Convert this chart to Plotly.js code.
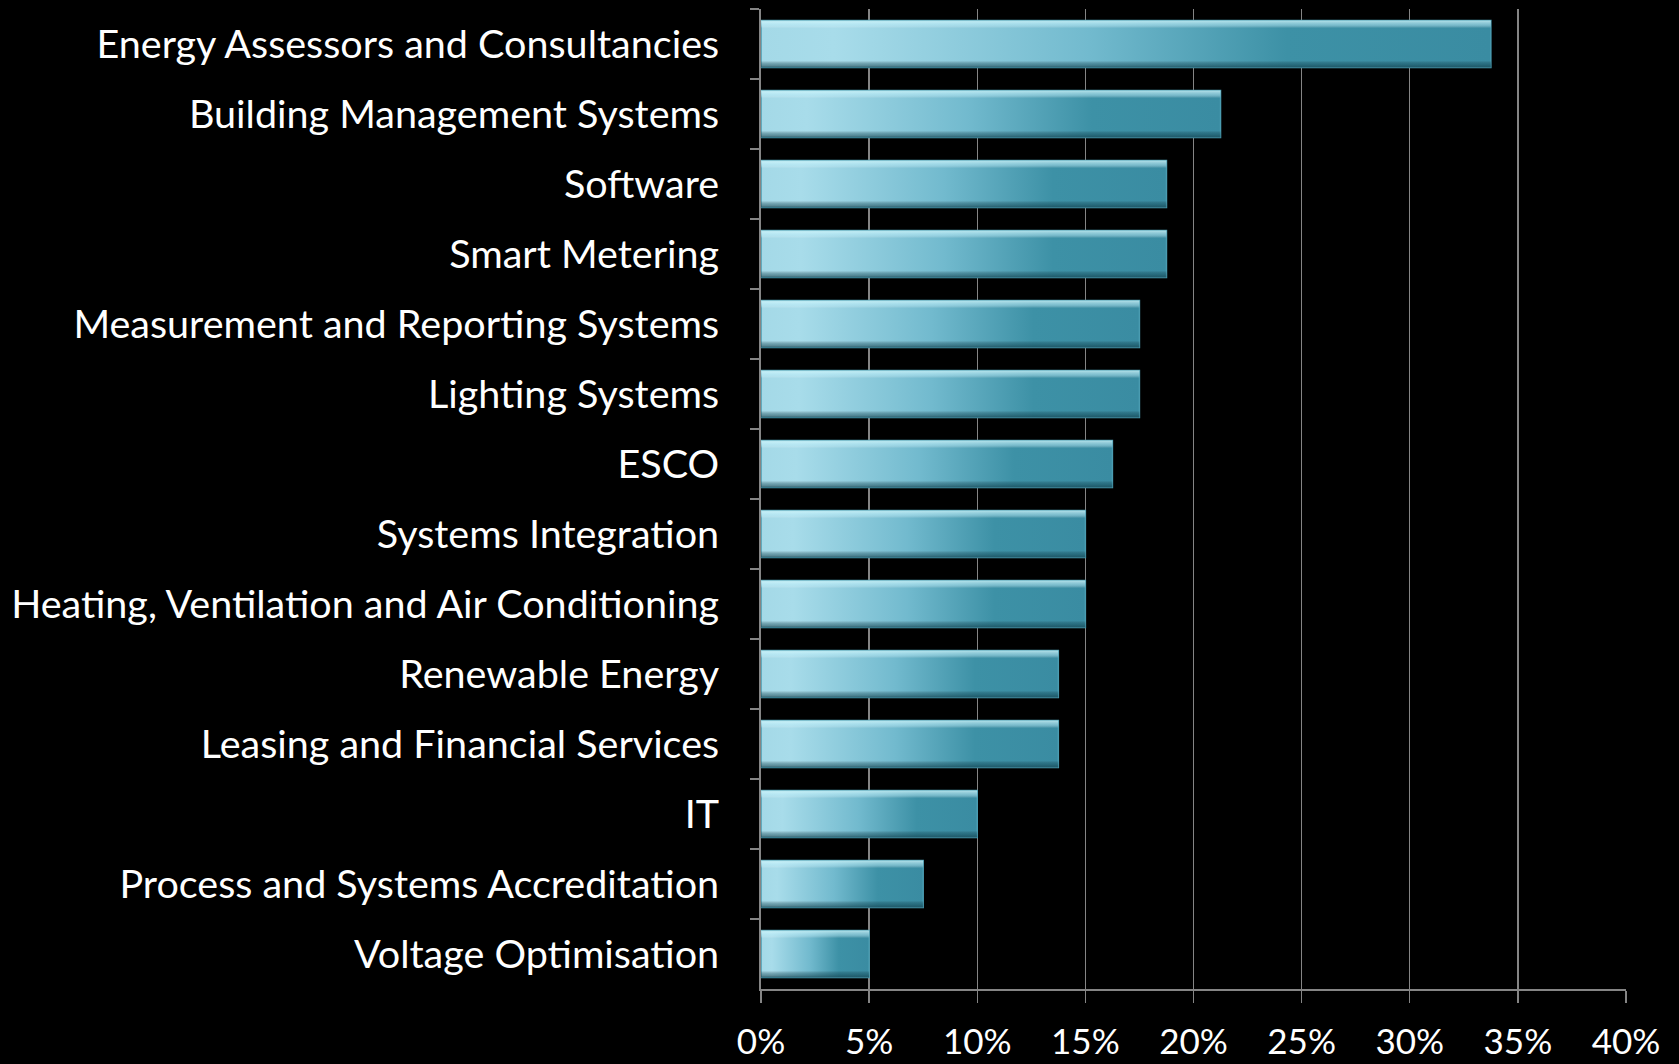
<!DOCTYPE html>
<html>
<head>
<meta charset="utf-8">
<script src="https://cdn.plot.ly/plotly-3.0.1.min.js"></script>
<style>
  html, body { margin: 0; padding: 0; background: #000; }
  #chart { width: 1679px; height: 1064px; }
</style>
</head>
<body>
<div id="chart"></div>
<script>
const categories = [
  "Energy Assessors and Consultancies",
  "Building Management Systems",
  "Software",
  "Smart Metering",
  "Measurement and Reporting Systems",
  "Lighting Systems",
  "ESCO",
  "Systems Integration",
  "Heating, Ventilation and Air Conditioning",
  "Renewable Energy",
  "Leasing and Financial Services",
  "IT",
  "Process and Systems Accreditation",
  "Voltage Optimisation"
];
const shares = [33.75, 21.25, 18.75, 18.75, 17.5, 17.5, 16.25, 15, 15, 13.75, 13.75, 10, 7.5, 5];
const xTicks = [0, 5, 10, 15, 20, 25, 30, 35, 40];

const fontFamily = "Lato, 'Open Sans', 'Liberation Sans', sans-serif";

const trace = {
  type: 'bar',
  orientation: 'h',
  x: shares,
  y: categories,
  marker: { color: '#6cb6ca', line: { color: '#4a9cb1', width: 1.5 } },
  hoverinfo: 'x+y'
};

const layout = {
  width: 1679,
  height: 1064,
  paper_bgcolor: '#000000',
  plot_bgcolor: '#000000',
  margin: { l: 761, r: 53, t: 9, b: 75, pad: 0 },
  bargap: 0.33,
  showlegend: false,
  font: { family: fontFamily, color: '#ffffff', size: 34 },
  xaxis: {
    range: [0, 40],
    tickvals: xTicks,
    ticktext: xTicks.map(v => v + '%'),
    showgrid: true,
    gridcolor: '#858585',
    gridwidth: 1.3,
    zeroline: false,
    showline: true,
    linecolor: '#858585',
    linewidth: 2,
    ticks: 'outside',
    ticklen: 12,
    tickwidth: 1.3,
    tickcolor: '#858585',
    ticklabelstandoff: 9,
    tickfont: { family: fontFamily, color: '#ffffff', size: 35 },
    fixedrange: true
  },
  yaxis: {
    type: 'category',
    autorange: 'reversed',
    showgrid: false,
    zeroline: false,
    showline: true,
    linecolor: '#858585',
    linewidth: 2,
    ticks: 'outside',
    tickson: 'boundaries',
    ticklen: 9,
    tickwidth: 1.5,
    tickcolor: '#858585',
    ticklabelstandoff: 32,
    tickfont: { family: fontFamily, color: '#ffffff', size: 39.5 },
    fixedrange: true
  }
};

Plotly.newPlot('chart', [trace], layout, { displayModeBar: false, staticPlot: true }).then(gd => {
  const svg = gd.querySelector('svg.main-svg');
  const ns = 'http://www.w3.org/2000/svg';
  let defs = svg.querySelector('defs');
  if (!defs) { defs = document.createElementNS(ns, 'defs'); svg.insertBefore(defs, svg.firstChild); }
  function grad(id, x2, y2, stops) {
    const g = document.createElementNS(ns, 'linearGradient');
    g.setAttribute('id', id);
    g.setAttribute('x1', '0'); g.setAttribute('y1', '0');
    g.setAttribute('x2', x2); g.setAttribute('y2', y2);
    stops.forEach(s => {
      const st = document.createElementNS(ns, 'stop');
      st.setAttribute('offset', s[0]);
      st.setAttribute('stop-color', s[1]);
      st.setAttribute('stop-opacity', s[2] === undefined ? 1 : s[2]);
      g.appendChild(st);
    });
    defs.appendChild(g);
  }
  grad('barH', '1', '0', [[0, '#a4d9e7'], [0.1, '#a8dcea'], [0.45, '#72bace'], [0.72, '#3d91a6'], [1, '#3a8ca2']]);
  grad('barV', '0', '1', [[0, '#d8fbff', 0.75], [0.1, '#c2f0fb', 0.45], [0.16, '#ffffff', 0], [0.86, '#000000', 0], [0.92, '#0b3a47', 0.35], [1, '#0a2f3a', 0.6]]);
  gd.querySelectorAll('.barlayer .point path').forEach(p => {
    p.style.fill = 'url(#barH)';
    const ov = p.cloneNode(false);
    ov.style.fill = 'url(#barV)';
    ov.style.stroke = 'none';
    p.parentNode.appendChild(ov);
  });
});
</script>
</body>
</html>
